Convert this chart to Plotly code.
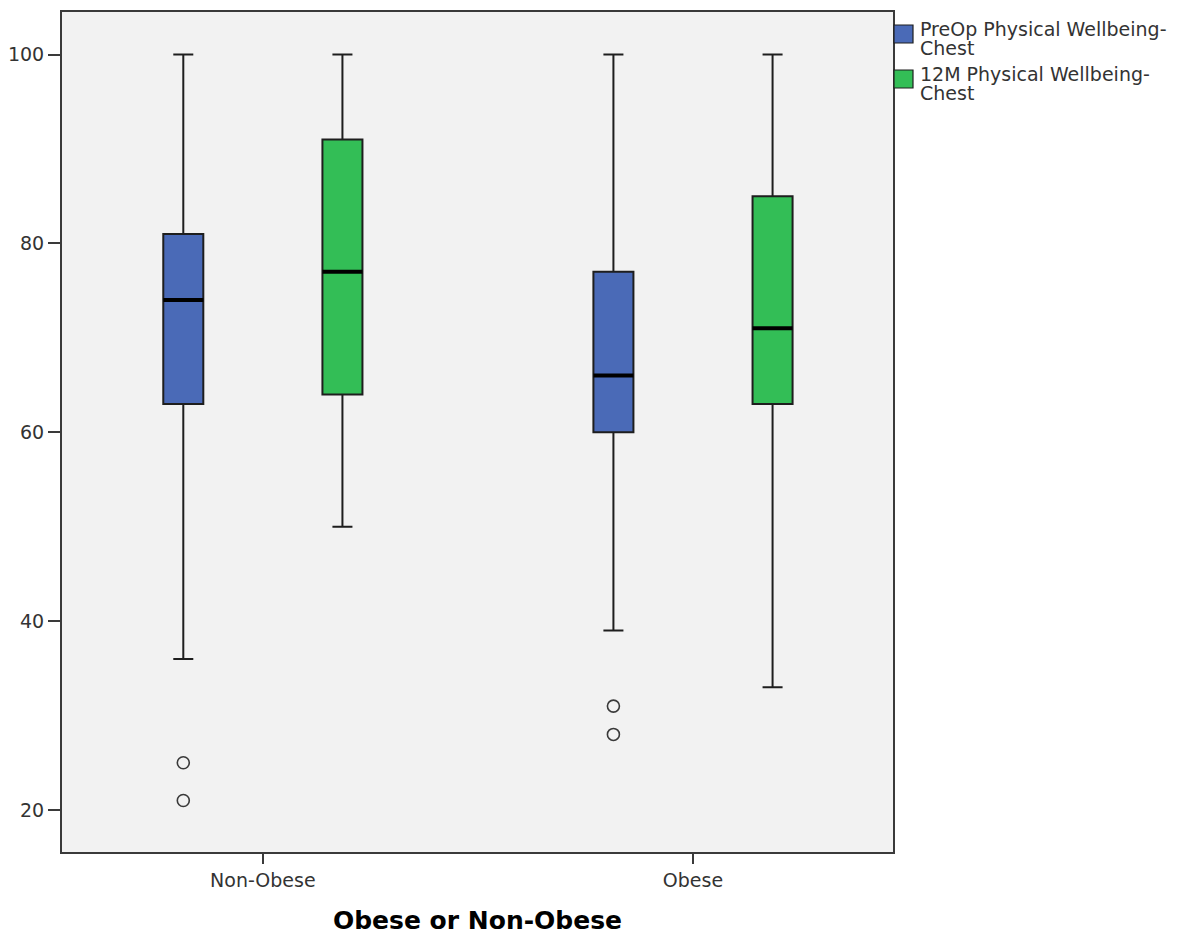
import plotly.graph_objects as go

# Summary statistics of the physical wellbeing (chest) scores by weight group
groups = ["Non-Obese", "Obese"]

preop_q1 = [63, 60]
preop_median = [74, 66]
preop_q3 = [81, 77]
preop_low = [36, 39]
preop_high = [100, 100]
preop_outliers = [[25, 21], [31, 28]]

m12_q1 = [64, 63]
m12_median = [77, 71]
m12_q3 = [91, 85]
m12_low = [50, 33]
m12_high = [100, 100]
m12_outliers = [[], []]

series_names = ["PreOp Physical Wellbeing-", "12M Physical Wellbeing-"]
series_suffix = "Chest"
y_ticks = [20, 40, 60, 80, 100]

BLUE = "#4A6AB7"
GREEN = "#33BE56"
FONT = "DejaVu Sans"
BOX_GAP = 0.26
GROUP_GAP = 0.7485

fig = go.Figure()

stats = [
    (preop_q1, preop_median, preop_q3, preop_low, preop_high, preop_outliers, BLUE),
    (m12_q1, m12_median, m12_q3, m12_low, m12_high, m12_outliers, GREEN),
]
for k, ((q1, med, q3, lo, hi, pts, color), name) in enumerate(zip(stats, series_names)):
    has_points = any(len(p) for p in pts)
    fig.add_trace(go.Box(
        name=name + series_suffix,
        x=groups,
        y=pts if has_points else None,
        q1=q1, median=med, q3=q3,
        lowerfence=lo, upperfence=hi,
        boxpoints="outliers" if has_points else False,
        pointpos=0,
        jitter=0,
        whiskerwidth=0.5,
        fillcolor=color,
        offsetgroup=str(k),
        line=dict(color="#1e1e1e", width=2),
        marker=dict(symbol="circle-open", size=12, color="#3a3a3a",
                    line=dict(width=1.6, color="#3a3a3a")),
        showlegend=False,
    ))

# Thick median bars drawn over each box, positioned with the same group geometry
n_series = len(stats)
half_w = 0.5 * (1 - BOX_GAP) * (1 - GROUP_GAP) / n_series
for k, (q1, med, *_rest) in enumerate(stats):
    offset = (-0.5 + (k + 0.5) / n_series) * (1 - BOX_GAP)
    for i, m in enumerate(med):
        c = i + offset
        fig.add_shape(type="line", xref="x", yref="y",
                      x0=c - half_w, x1=c + half_w, y0=m, y1=m,
                      line=dict(color="black", width=4), layer="above")

# Legend keys and labels at the right of the plot frame
colors = [BLUE, GREEN]
for k, (name, color) in enumerate(zip(series_names, colors)):
    top = -13 - 45 * k
    fig.add_shape(type="rect", xref="paper", yref="paper",
                  xsizemode="pixel", ysizemode="pixel",
                  xanchor=1, yanchor=1,
                  x0=1, x1=20, y0=top, y1=top - 18,
                  fillcolor=color, line=dict(color="#1e1e1e", width=1.2))
    for j, txt in enumerate([name, series_suffix]):
        fig.add_annotation(xref="paper", yref="paper", x=1, y=1,
                           xanchor="left", yanchor="middle",
                           xshift=25, yshift=top - 4 - 19 * j,
                           text=txt, showarrow=False,
                           font=dict(family=FONT, size=19, color="#333333"))

fig.update_layout(
    width=1194, height=937,
    margin=dict(l=62, r=301, t=12, b=85),
    paper_bgcolor="white",
    plot_bgcolor="#F2F2F2",
    boxmode="group",
    boxgap=BOX_GAP,
    boxgroupgap=GROUP_GAP,
    font=dict(family=FONT, size=19, color="#333333"),
    showlegend=False,
)
fig.update_xaxes(
    type="category",
    range=[-0.467, 1.465],
    automargin=False,
    showline=True, mirror=True, linecolor="#3a3a3a", linewidth=2,
    ticks="outside", ticklen=10, tickwidth=2, tickcolor="#3a3a3a",
    showgrid=False, zeroline=False,
    title=dict(text="<b>Obese or Non-Obese</b>",
               font=dict(family=FONT, size=25, color="black"), standoff=22),
)
fig.update_yaxes(
    range=[15.55, 104.5],
    tickvals=y_ticks,
    automargin=False,
    showline=True, mirror=True, linecolor="#3a3a3a", linewidth=2,
    ticks="outside", ticklen=12, tickwidth=2, tickcolor="#3a3a3a",
    showgrid=False, zeroline=False,
)

fig.write_html("out.html")
